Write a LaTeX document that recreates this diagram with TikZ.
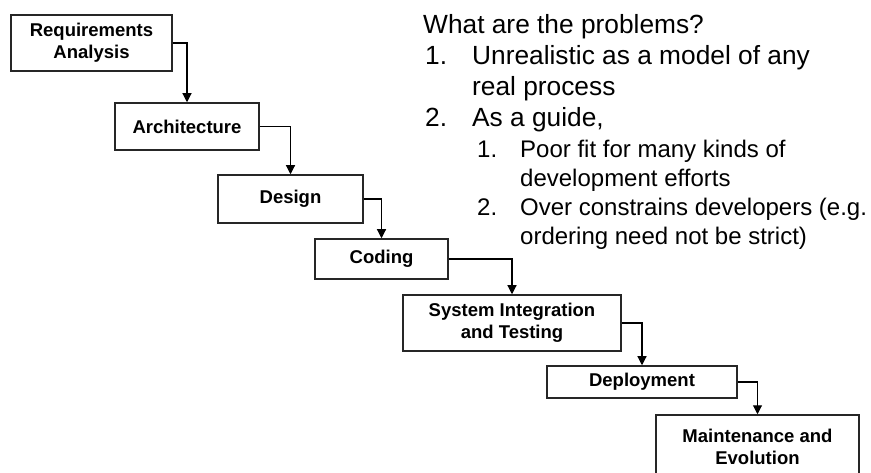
\documentclass[tikz,border=0pt]{standalone}
\usepackage{fontspec}
\setmainfont{Liberation Sans}
\usetikzlibrary{arrows.meta}
\begin{document}
\begin{tikzpicture}[x=1pt,y=-1pt,
  phase/.style={draw=black!85,line width=1.5pt,rectangle,inner sep=0pt,
    align=center,font={\fontsize{18.5}{22}\selectfont\bfseries}},
  flow/.style={draw=black,line width=1.1pt,-{Triangle[width=9pt,length=9pt]}},
  bigtxt/.style={anchor=base west,inner sep=0pt,font={\fontsize{26.3}{30}\selectfont}},
  smalltxt/.style={anchor=base west,inner sep=0pt,font={\fontsize{24}{28}\selectfont}}]
\useasboundingbox (0,0) rectangle (871,473);
\clip (0,0) rectangle (871,473);

% waterfall phases
\node[phase,minimum width=161pt,minimum height=56pt] (req) at (91.5,43) {Requirements\\Analysis};
\node[phase,minimum width=144pt,minimum height=47pt] (arch) at (187,126.5) {Architecture};
\node[phase,minimum width=145pt,minimum height=48pt] (des) at (290.5,199) {Design};
\node[phase,minimum width=133pt,minimum height=40pt] (cod) at (381.5,259) {Coding};
\node[phase,minimum width=218pt,minimum height=56pt] (sit) at (512,323) {System Integration\\and Testing};
\node[phase,minimum width=190pt,minimum height=32pt] (dep) at (642,382) {Deployment};
\node[phase,minimum width=203pt,minimum height=64pt] (mnt) at (757.5,447) {Maintenance and\\Evolution};

% connectors between phases
\draw[flow] (req.east) -| (arch.north);
\draw[flow] (arch.east) -| (des.north);
\draw[flow] (des.east) -| (cod.north);
\draw[flow] (cod.east) -| (sit.north);
\draw[flow] (sit.east) -| (dep.north);
\draw[flow] (dep.east) -| (mnt.north);

% list of problems
\node[bigtxt] (q) at (423,34) {What are the problems?};
\node[bigtxt] (n1) at (425,65) {1.};
\node[bigtxt] (t1a) at (472,65) {Unrealistic as a model of any};
\node[bigtxt] (t1b) at (472,96) {real process};
\node[bigtxt] (n2) at (425,127) {2.};
\node[bigtxt] (t2) at (472,127) {As a guide,};
\node[smalltxt] (s1) at (477,158) {1.};
\node[smalltxt] (s1a) at (520,158) {Poor fit for many kinds of};
\node[smalltxt] (s1b) at (520,187) {development efforts};
\node[smalltxt] (s2) at (477,216) {2.};
\node[smalltxt] (s2a) at (520,216) {Over constrains developers (e.g.};
\node[smalltxt] (s2b) at (520,245) {ordering need not be strict)};
\end{tikzpicture}
\end{document}
